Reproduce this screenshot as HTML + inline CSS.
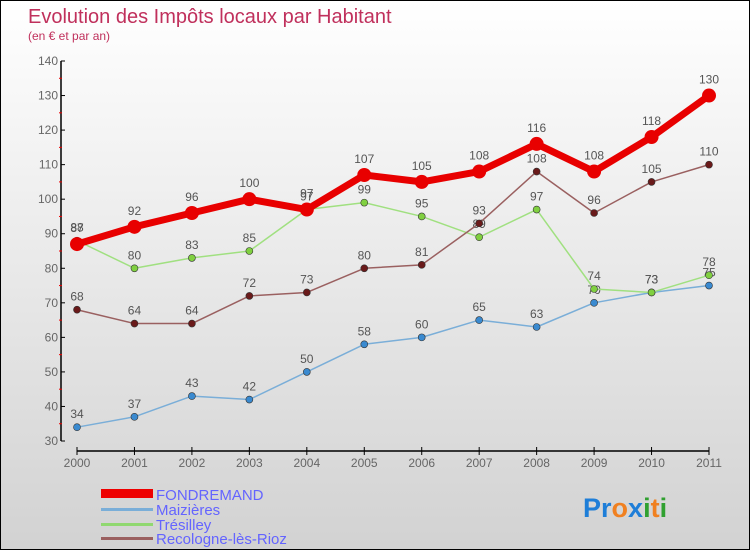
<!DOCTYPE html>
<html><head><meta charset="utf-8"><style>
body{margin:0}
#c{width:750px;height:550px;position:relative;box-sizing:border-box;border:1px solid #000;background:linear-gradient(#fff,#d2d2d2);font-family:"Liberation Sans",sans-serif;overflow:hidden}
svg text{font-family:"Liberation Sans",sans-serif}
</style></head><body>
<div id="c">
<svg id="s" width="750" height="550">
<text x="27" y="22" font-size="20" fill="#c0305c">Evolution des Impôts locaux par Habitant</text>
<text x="27" y="39" font-size="12" fill="#c0305c">(en € et par an)</text>
<g id="ax"></g><g id="ser"></g>
<g>
<rect x="100" y="488" width="52" height="9" fill="#e00"/>
<text x="155" y="499" font-size="15" fill="#6464ff">FONDREMAND</text>
<rect x="100" y="507" width="52" height="3" fill="#7aaed8"/>
<text x="155" y="514" font-size="15" fill="#6464ff">Maizières</text>
<rect x="100" y="522" width="52" height="3" fill="#90d870"/>
<text x="155" y="529" font-size="15" fill="#6464ff">Trésilley</text>
<rect x="100" y="536" width="52" height="3" fill="#9a6060"/>
<text x="155" y="543" font-size="15" fill="#6464ff">Recologne-lès-Rioz</text>
</g>
<text x="582" y="516" font-size="27" font-weight="bold"><tspan fill="#1e7ed8">Pr</tspan><tspan fill="#f08020">o</tspan><tspan fill="#1e7ed8">x</tspan><tspan fill="#30a030">i</tspan><tspan fill="#f08020">t</tspan><tspan fill="#30a030">i</tspan></text>
</svg></div>
<script>
const years=[2000,2001,2002,2003,2004,2005,2006,2007,2008,2009,2010,2011];
const yTicks=[30,40,50,60,70,80,90,100,110,120,130,140];
const fondremand=[87,92,96,100,97,107,105,108,116,108,118,130];
const maizieres=[34,37,43,42,50,58,60,65,63,70,73,75];
const tresilley=[88,80,83,85,97,99,95,89,97,74,73,78];
const recologne=[68,64,64,72,73,80,81,93,108,96,105,110];
const NS="http://www.w3.org/2000/svg";
const X=i=>76+i*(708-76)/(years.length-1);
const Y=v=>440-(v-30)*(380/110);
function mk(t,a,p){const e=document.createElementNS(NS,t);for(const k in a)e.setAttribute(k,a[k]);p.appendChild(e);return e;}
const ax=document.getElementById('ax');
let l=mk('line',{x1:60,y1:Y(140),x2:60,y2:Y(30),stroke:'#000','stroke-width':1.5},ax);


yTicks.forEach(v=>{
 mk('line',{x1:60,y1:Y(v),x2:64,y2:Y(v),stroke:'#000'},ax);
 if(v<140)mk('line',{x1:58,y1:Y(v+5),x2:61,y2:Y(v+5),stroke:'#e00'},ax);
 const t=mk('text',{x:57,y:Y(v)+4,'font-size':12,fill:'#666','text-anchor':'end'},ax);t.textContent=v;
 
 
});
l=mk('line',{x1:76,y1:450,x2:708,y2:450,stroke:'#000','stroke-width':1.5},ax);


years.forEach((y,i)=>{
 mk('line',{x1:X(i),y1:446,x2:X(i),y2:454,stroke:'#000'},ax);
 const t=mk('text',{x:X(i),y:466,'font-size':12,fill:'#666','text-anchor':'middle'},ax);t.textContent=y;
 
 
});
const ser=document.getElementById('ser');
function draw(name,d,col,w,r,dot){
 const g=mk('g',{},ser);
 
 
 mk('polyline',{points:d.map((v,i)=>X(i)+','+Y(v)).join(' '),fill:'none',stroke:col,'stroke-width':w,'stroke-linejoin':'round'},g);
 d.forEach((v,i)=>{
  const c=mk('circle',{cx:X(i),cy:Y(v),r:r,fill:dot,stroke:'#333','stroke-width':r>5?0:0.6},g);
  
  
  const t=mk('text',{x:X(i),y:Y(v)-(r>5?12:9),'font-size':12,fill:'#555','text-anchor':'middle'},g);t.textContent=v;
  
  
 });
}
draw('maizieres',maizieres,'#7aaed8',1.5,3.5,'#3a8ad0');
draw('tresilley',tresilley,'#a0e080',1.5,3.5,'#80d040');
draw('recologne',recologne,'#9a6060',1.5,3.5,'#6a1a1a');
draw('fondremand',fondremand,'#e80000',7,7,'#e80000');
</script>
</body></html>
